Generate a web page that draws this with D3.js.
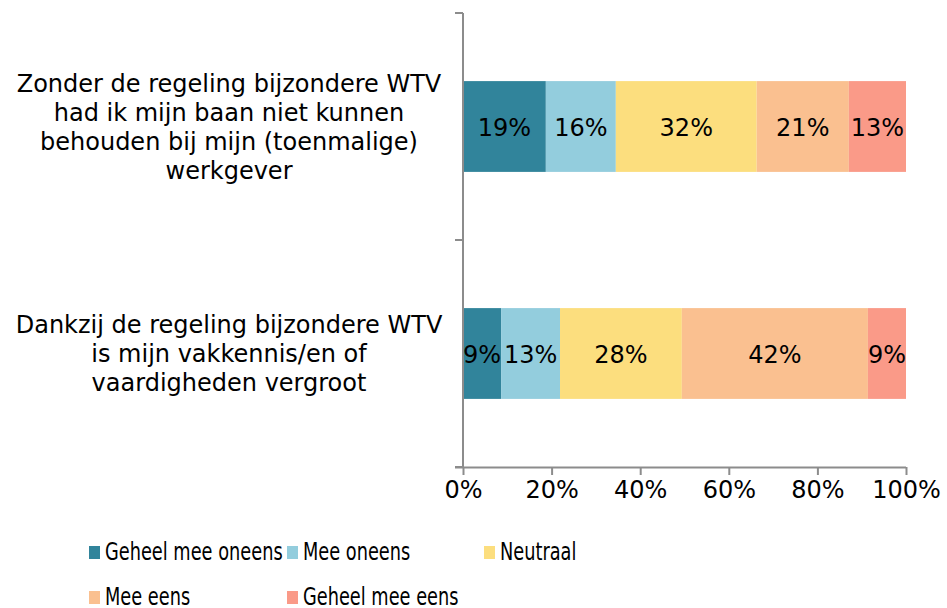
<!DOCTYPE html>
<html>
<head>
<meta charset="utf-8">
<title>WTV chart</title>
<script src="https://d3js.org/d3.v7.min.js"></script>
<style>
  body { margin: 0; background: #fff; }
  text { font-family: "DejaVu Sans", Verdana, sans-serif; fill: #000; }
</style>
</head>
<body>
<script>
// data
var categories = [
    ["Zonder de regeling bijzondere WTV", "had ik mijn baan niet kunnen", "behouden bij mijn (toenmalige)", "werkgever"],
    ["Dankzij de regeling bijzondere WTV", "is mijn vakkennis/en of", "vaardigheden vergroot"]
];
var seriesNames = ["Geheel mee oneens", "Mee oneens", "Neutraal", "Mee eens", "Geheel mee eens"];
var colors = ["#31849b", "#93cddd", "#fcde7e", "#fac090", "#fa9a88"];
var values = [
    [18.7, 15.8, 31.8, 20.8, 12.9],
    [8.6, 13.3, 27.5, 42.0, 8.6]
];
var tickValues = [0, 20, 40, 60, 80, 100];

var width = 947, height = 608;
var plot = { left: 463, right: 906, top: 13, bottom: 467 };

var svg = d3.select("body").append("svg")
    .attr("width", width)
    .attr("height", height);

var x = d3.scaleLinear().domain([0, 100]).range([plot.left, plot.right]);
var y = d3.scaleBand().domain(d3.range(categories.length))
    .range([plot.top, plot.bottom]).paddingInner(0.6).paddingOuter(0.3);

// stacked bars
values.forEach(function(row, i) {
    var cum = 0;
    var g = svg.append("g");
    row.forEach(function(v, j) {
        var x0 = cum;
        cum += v;
        g.append("rect")
            .attr("x", x(x0))
            .attr("y", y(i))
            .attr("width", x(cum) - x(x0))
            .attr("height", y.bandwidth())
            .attr("fill", colors[j]);
        g.append("text")
            .attr("x", (x(x0) + x(cum)) / 2)
            .attr("y", y(i) + y.bandwidth() / 2 + 1)
            .attr("dy", "0.36em")
            .attr("text-anchor", "middle")
            .style("font-size", "24px")
            .text(Math.round(v) + "%");
    });
});

// x axis
var xAxis = d3.axisBottom(x).tickValues(tickValues)
    .tickFormat(function(d) { return d + "%"; })
    .tickSize(8).tickSizeOuter(0).tickPadding(6);
var gx = svg.append("g")
    .attr("transform", "translate(0," + plot.bottom + ")")
    .call(xAxis);
gx.select(".domain").attr("d", "M" + (plot.left - 8) + ",0.5H" + plot.right);
gx.selectAll("line, .domain").attr("stroke", "#8c8c8c").attr("stroke-width", 2);
gx.selectAll("text").style("font-size", "24px").style("font-family", "DejaVu Sans, sans-serif");

// y axis (category boundaries)
var yEdges = d3.scaleLinear().domain([0, categories.length]).range([plot.top, plot.bottom]);
var gy = svg.append("g").attr("transform", "translate(" + plot.left + ",0)");
gy.append("line")
    .attr("x1", 0).attr("x2", 0)
    .attr("y1", plot.top).attr("y2", plot.bottom)
    .attr("stroke", "#8c8c8c").attr("stroke-width", 2);
gy.selectAll("line.tick").data(d3.range(categories.length + 1)).enter()
    .append("line").attr("class", "tick")
    .attr("x1", -8).attr("x2", 0)
    .attr("y1", function(d) { return yEdges(d); })
    .attr("y2", function(d) { return yEdges(d); })
    .attr("stroke", "#8c8c8c").attr("stroke-width", 2);

// category labels
categories.forEach(function(lines, i) {
    var cy = y(i) + y.bandwidth() / 2;
    var lh = 29;
    var t = svg.append("text")
        .attr("text-anchor", "middle")
        .style("font-size", "24px");
    lines.forEach(function(l, k) {
        t.append("tspan")
            .attr("x", 229)
            .attr("y", cy + (k - (lines.length - 1) / 2) * lh)
            .attr("dy", "0.36em")
            .text(l);
    });
});

// legend
var legendPos = [[89, 546], [287, 546], [484, 546], [89, 591], [287, 591]];
seriesNames.forEach(function(name, j) {
    var p = legendPos[j];
    var g = svg.append("g").attr("transform", "translate(" + p[0] + "," + p[1] + ")");
    g.append("rect").attr("width", 11).attr("height", 13).attr("fill", colors[j]);
    g.append("text")
        .attr("transform", "translate(16,0) scale(0.74,1)")
        .attr("y", 5.5)
        .attr("dy", "0.36em")
        .style("font-size", "24px")
        .text(name);
});
</script>
</body>
</html>
